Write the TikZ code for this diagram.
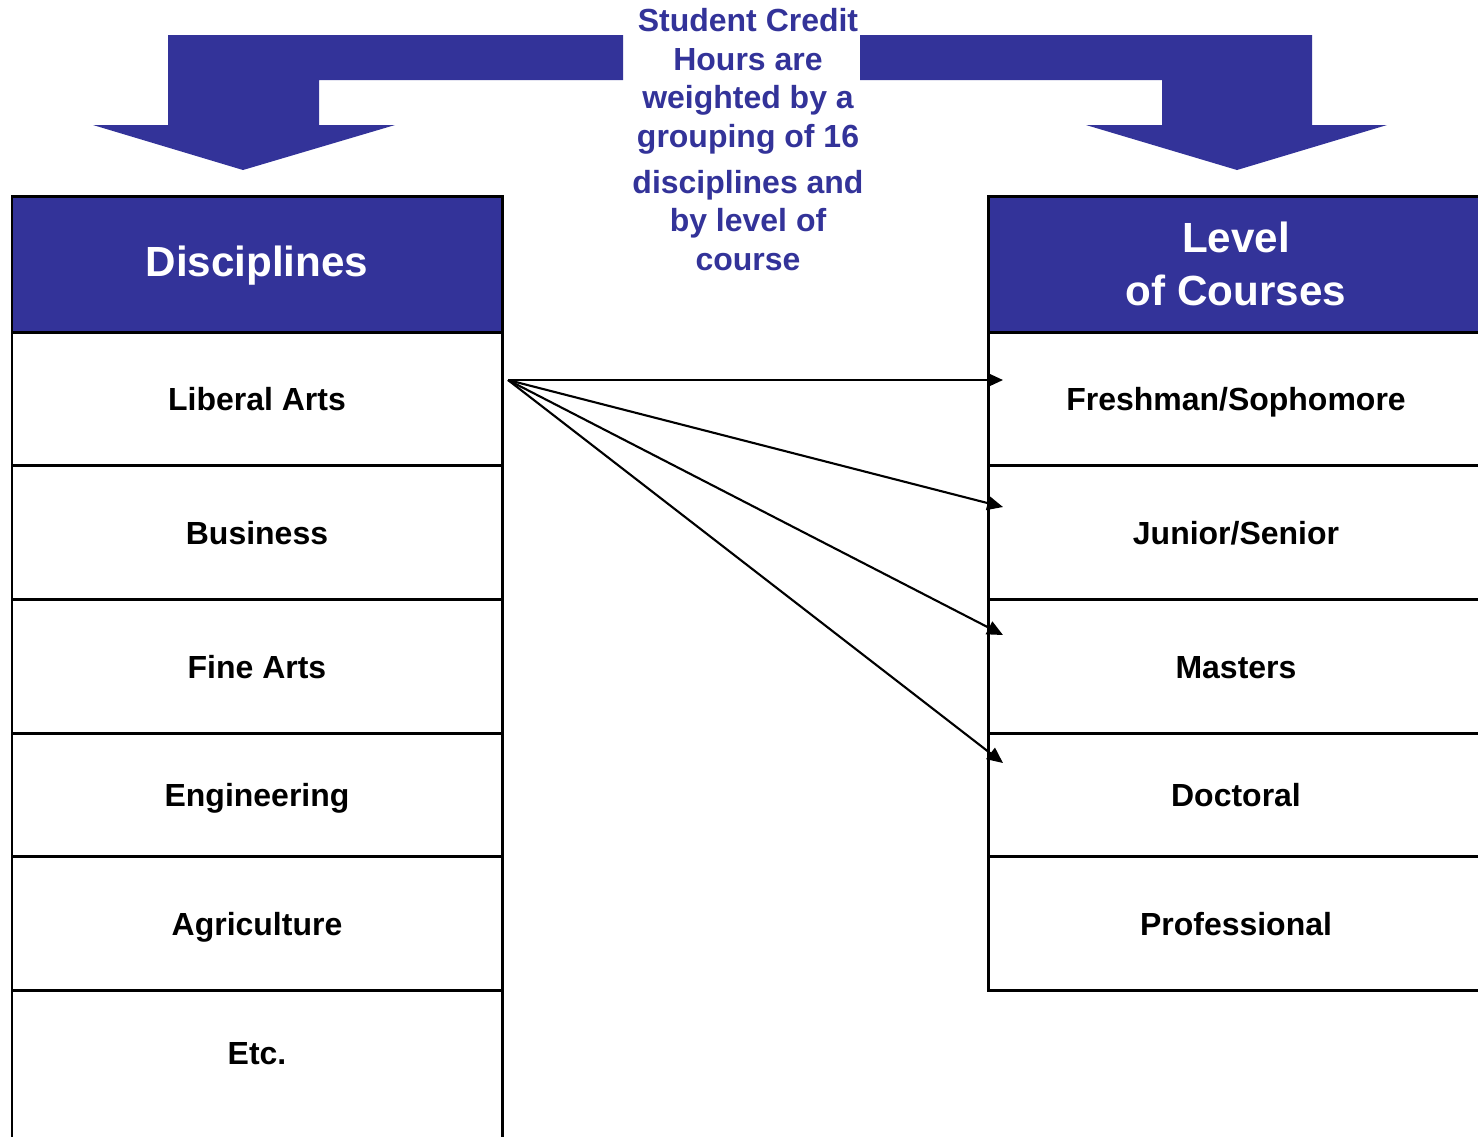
\documentclass[tikz,border=0pt]{standalone}
\usepackage{fontspec}
\setmainfont{Liberation Sans}
\usetikzlibrary{arrows.meta, positioning}
\definecolor{hdrblue}{RGB}{51,51,153}

\tikzset{
  box/.style={draw, line width=0.85pt, outer sep=0pt, inner sep=0pt,
              minimum width=4.9cm},
  cell/.style={box, text height=0.73em, text depth=0.04em,
               font=\fontsize{9.1}{11}\selectfont\bfseries},
  hdr/.style={box, fill=hdrblue, text=white, align=center,
              minimum height=1.36cm, anchor=north,
              font=\fontsize{12}{15}\selectfont\bfseries},
  link/.style={line width=0.6pt, -{Triangle[length=4.5pt,width=4pt]}}
}

\begin{document}
\begin{tikzpicture}
\useasboundingbox (0,0) rectangle (14.78,-11.36);

% the two bent block arrows
\fill[hdrblue] (1.68,-0.35) -- (6.23,-0.35) -- (6.23,-0.80) -- (3.19,-0.80)
  -- (3.19,-1.25) -- (3.95,-1.25) -- (2.43,-1.70) -- (0.93,-1.25)
  -- (1.68,-1.25) -- cycle;
\fill[hdrblue] (8.60,-0.35) -- (13.12,-0.35) -- (13.12,-1.25) -- (13.87,-1.25)
  -- (12.37,-1.70) -- (10.86,-1.25) -- (11.62,-1.25) -- (11.62,-0.80)
  -- (8.60,-0.80) -- cycle;

\node[font=\fontsize{9.1}{10.95}\selectfont\bfseries, text=hdrblue,
      align=center, inner sep=0pt, anchor=north] (note) at (7.48,-0.08)
  {Student Credit\\Hours are\\weighted by a\\grouping of 16\\[2.1pt]%
   disciplines and\\by level of\\course};

% disciplines column
\node[hdr, text height=0.73em, text depth=0.04em] (disc) at (2.57,-1.96) {Disciplines};
\node[cell, minimum height=1.33cm, below=0pt of disc] (lib) {Liberal Arts};
\node[cell, minimum height=1.34cm, below=0pt of lib] (bus) {Business};
\node[cell, minimum height=1.34cm, below=0pt of bus] (fine) {Fine Arts};
\node[cell, minimum height=1.23cm, below=0pt of fine] (eng) {Engineering};
\node[cell, minimum height=1.34cm, below=0pt of eng] (agri) {Agriculture};
\node[cell, minimum height=1.60cm, below=0pt of agri] (etcbox) {};
\node[font=\fontsize{9.1}{11}\selectfont\bfseries] (etc)
  at ([yshift=-0.64cm]etcbox.north) {Etc.};

% level column
\tikzset{box/.append style={minimum width=4.96cm}}
\node[hdr] (level) at (12.36,-1.96) {Level\\of Courses};
\node[cell, minimum height=1.33cm, below=0pt of level] (fresh) {Freshman/Sophomore};
\node[cell, minimum height=1.34cm, below=0pt of fresh] (junior) {Junior/Senior};
\node[cell, minimum height=1.34cm, below=0pt of junior] (masters) {Masters};
\node[cell, minimum height=1.23cm, below=0pt of masters] (doc) {Doctoral};
\node[cell, minimum height=1.34cm, below=0pt of doc] (prof) {Professional};

% fan of links
\coordinate (src) at ([xshift=0.06cm,yshift=-0.48cm]lib.north east);
\foreach \row/\dy in {fresh/0.48, junior/0.42, masters/0.36, doc/0.30}
  \draw[link] (src) -- ([xshift=0.15cm,yshift=-\dy cm]\row.north west);
\end{tikzpicture}
\end{document}
